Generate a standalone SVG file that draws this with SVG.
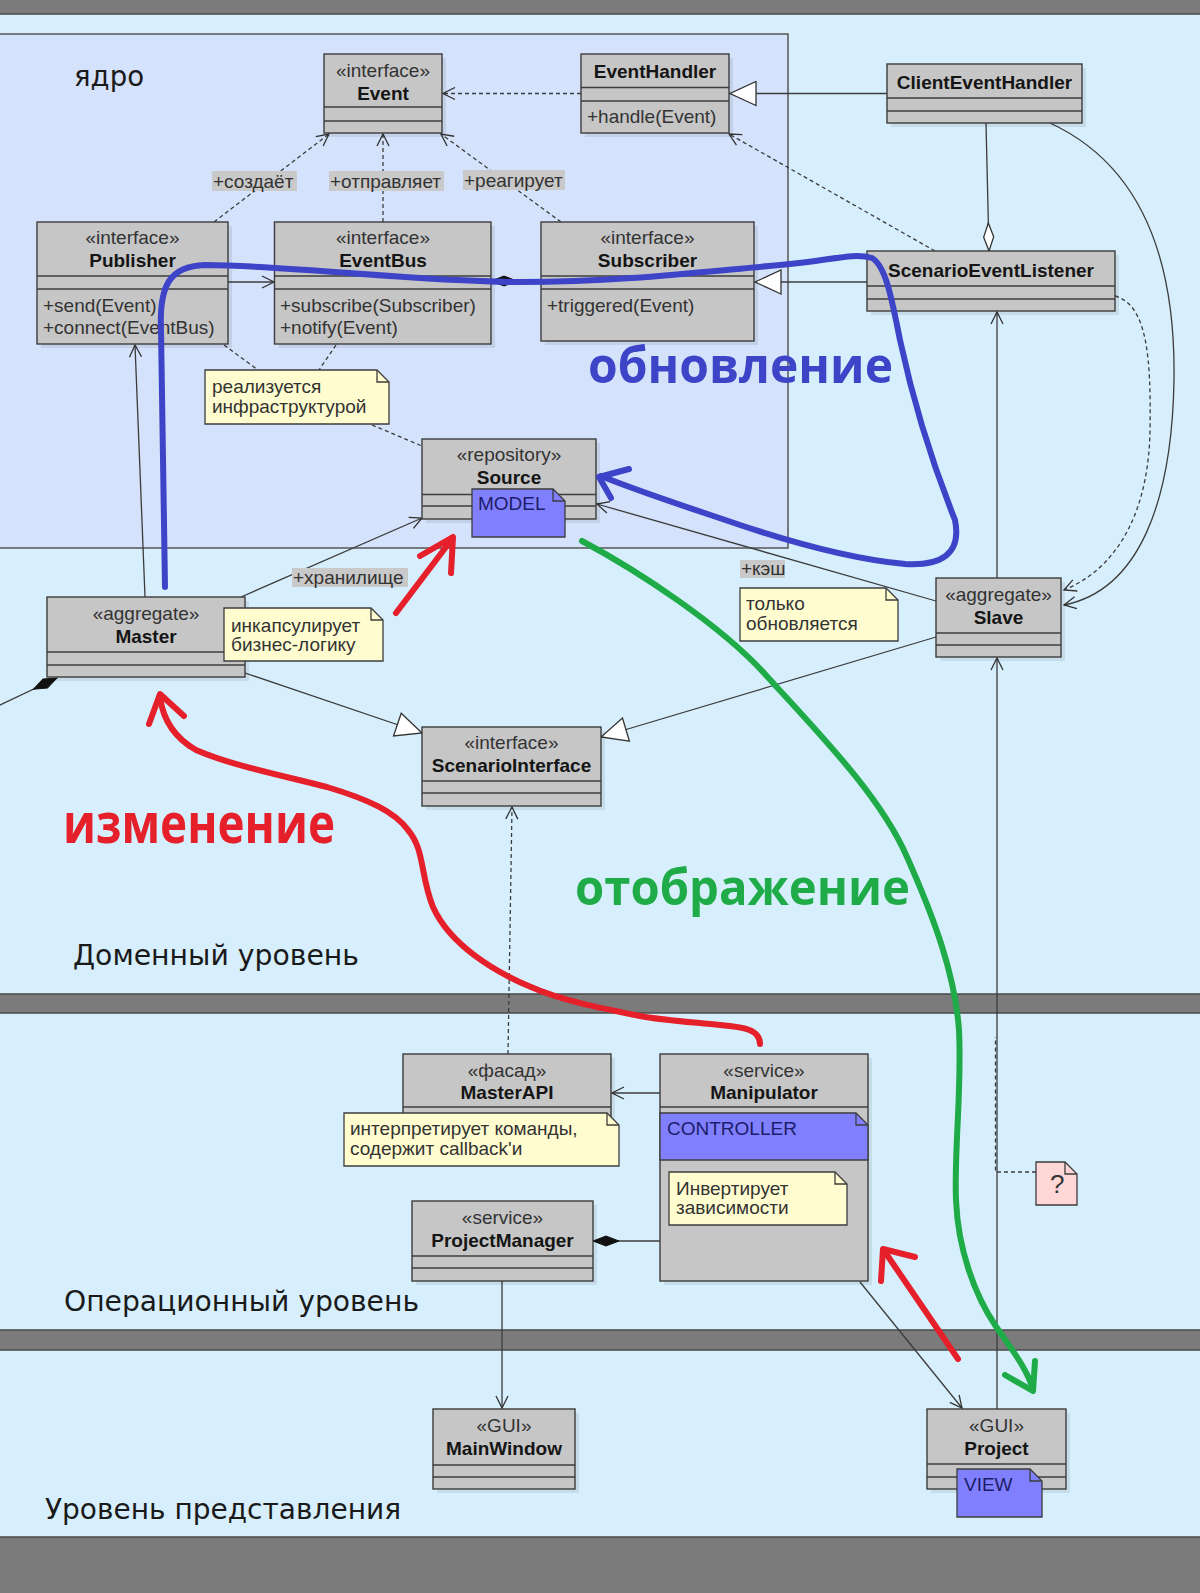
<svg xmlns="http://www.w3.org/2000/svg" width="1200" height="1593" viewBox="0 0 1200 1593">
<style>
.box{fill:#c6c6c6;stroke:#3c3c3c;stroke-width:1.4}
.sh{fill:#000;opacity:.08}
.ln{stroke:#3c3c3c;stroke-width:1.4}
.st{font-family:"Liberation Sans",Arial,sans-serif;font-size:19px;fill:#333;text-anchor:middle}
.nm{font-family:"Liberation Sans",Arial,sans-serif;font-size:19px;font-weight:bold;fill:#151515;text-anchor:middle}
.op{font-family:"Liberation Sans",Arial,sans-serif;font-size:19px;fill:#333}
.note{fill:#fffdd0;stroke:#3c3c3c;stroke-width:1.3}
.bnote{fill:#8080ff;stroke:#3c3c3c;stroke-width:1.3}
.pnote{fill:#ffd7d7;stroke:#3c3c3c;stroke-width:1.3}
.fold{fill:none;stroke:#3c3c3c;stroke-width:1.3}
.nt{font-family:"Liberation Sans",Arial,sans-serif;font-size:19px;fill:#333}
.bt{font-family:"Liberation Sans",Arial,sans-serif;font-size:19px;fill:#1c1c6a}
.lbg{fill:#c9c9c9}
.lay{font-family:"DejaVu Sans",sans-serif;font-size:28px;fill:#1a1a1a}
.c{fill:none;stroke:#3c3c3c;stroke-width:1.3}
.d{fill:none;stroke:#3c3c3c;stroke-width:1.3;stroke-dasharray:4 3}
.ann{fill:none;stroke-width:6;stroke-linecap:round;stroke-linejoin:round}
.big{font-family:"Open Sans","Noto Sans",sans-serif;font-weight:bold}
</style>
<defs>
<marker id="open" markerWidth="14" markerHeight="14" viewBox="0 0 14 14" refX="13" refY="7" orient="auto" markerUnits="userSpaceOnUse"><path d="M1,1 L13,7 L1,13" fill="none" stroke="#333" stroke-width="1.3"/></marker>
<marker id="gen" markerWidth="30" markerHeight="26" viewBox="0 0 30 26" refX="28" refY="13" orient="auto" markerUnits="userSpaceOnUse"><path d="M2,1 L28,13 L2,25 Z" fill="#fff" stroke="#333" stroke-width="1.3"/></marker>
<marker id="comp" markerWidth="30" markerHeight="14" viewBox="0 0 30 14" refX="1" refY="7" orient="auto" markerUnits="userSpaceOnUse"><path d="M1,7 L14,2 L27,7 L14,12 Z" fill="#111" stroke="#111" stroke-width="1"/></marker>
<marker id="agg" markerWidth="32" markerHeight="14" viewBox="0 0 32 14" refX="31" refY="7" orient="auto" markerUnits="userSpaceOnUse"><path d="M31,7 L17,2 L3,7 L17,12 Z" fill="#fff" stroke="#333" stroke-width="1.3"/></marker>
</defs>

<!-- background -->
<rect x="0" y="0" width="1200" height="1593" fill="#d7effc"/>
<rect x="-2" y="34" width="790" height="514" fill="#d5e2fb" stroke="#555" stroke-width="1.5"/>
<g id="bands">
<rect x="-1" y="-1" width="1202" height="15" fill="#7b7b7b" stroke="#4a4a4a" stroke-width="1.5"/>
<rect x="-1" y="994" width="1202" height="19" fill="#7b7b7b" stroke="#4a4a4a" stroke-width="1.5"/>
<rect x="-1" y="1330" width="1202" height="20" fill="#7b7b7b" stroke="#4a4a4a" stroke-width="1.5"/>
<rect x="-1" y="1537" width="1202" height="58" fill="#7b7b7b" stroke="#4a4a4a" stroke-width="1.5"/>
</g>
<g id="layer-labels">
<text class="lay" x="74" y="86" textLength="70" lengthAdjust="spacingAndGlyphs">ядро</text>
<text class="lay" x="73" y="965" textLength="286" lengthAdjust="spacingAndGlyphs">Доменный уровень</text>
<text class="lay" x="64" y="1311" textLength="355" lengthAdjust="spacingAndGlyphs">Операционный уровень</text>
<text class="lay" x="45" y="1519" textLength="356" lengthAdjust="spacingAndGlyphs">Уровень представления</text>
</g>

<!-- connectors -->
<g id="connectors">
<line class="d" x1="214" y1="222" x2="329" y2="134" marker-end="url(#open)"/>
<line class="d" x1="383" y1="222" x2="383" y2="134" marker-end="url(#open)"/>
<line class="d" x1="561" y1="222" x2="441" y2="134" marker-end="url(#open)"/>
<line class="d" x1="581" y1="93.5" x2="443" y2="93.5" marker-end="url(#open)"/>
<line class="c" x1="887" y1="93.5" x2="730" y2="93.5" marker-end="url(#gen)"/>
<line class="c" x1="867" y1="282" x2="755" y2="282" marker-end="url(#gen)"/>
<line class="c" x1="986" y1="123" x2="989" y2="251" marker-end="url(#agg)"/>
<line class="d" x1="935" y1="251" x2="729" y2="134" marker-end="url(#open)"/>
<line class="c" x1="228" y1="282" x2="274" y2="282" marker-end="url(#open)"/>
<line class="c" x1="491" y1="281" x2="541" y2="281" marker-start="url(#comp)"/>
<line class="d" x1="224" y1="345" x2="258" y2="370"/>
<line class="d" x1="336" y1="345" x2="319" y2="370"/>
<line class="d" x1="372" y1="425" x2="422" y2="446"/>
<line class="c" x1="145" y1="597" x2="135" y2="345" marker-end="url(#open)"/>
<line class="c" x1="241" y1="597" x2="422" y2="518" marker-end="url(#open)"/>
<line class="c" x1="936" y1="601" x2="597" y2="504" marker-end="url(#open)"/>
<line class="c" x1="245" y1="673" x2="422" y2="733" marker-end="url(#gen)"/>
<line class="c" x1="936" y1="637" x2="601" y2="737" marker-end="url(#gen)"/>
<line class="c" x1="997" y1="578" x2="997" y2="312" marker-end="url(#open)"/>
<line class="c" x1="997" y1="1409" x2="997" y2="658" marker-end="url(#open)"/>
<path class="d" d="M1115,296 C1148,305 1151,360 1150,430 C1149,500 1125,565 1064,590" marker-end="url(#open)"/>
<path class="c" d="M1050,123 C1130,160 1176,240 1174,380 C1172,500 1140,590 1064,605" marker-end="url(#open)"/>
<line class="d" x1="172" y1="637" x2="224" y2="637"/>
<line class="c" x1="57" y1="678" x2="-2" y2="706" marker-start="url(#comp)"/>
<line class="d" x1="508" y1="1054" x2="512" y2="807" marker-end="url(#open)"/>
<line class="d" x1="502" y1="1099" x2="497" y2="1113"/>
<line class="c" x1="660" y1="1093" x2="612" y2="1093" marker-end="url(#open)"/>
<line class="c" x1="593" y1="1241" x2="660" y2="1241" marker-start="url(#comp)"/>
<line class="c" x1="502" y1="1281" x2="502" y2="1408" marker-end="url(#open)"/>
<line class="c" x1="860" y1="1282" x2="962" y2="1408" marker-end="url(#open)"/>
<path class="d" d="M1036,1172 L995.5,1172 L995.5,1037"/>
<line class="d" x1="763" y1="1166" x2="763" y2="1172"/>
</g>

<!-- edge labels -->
<g id="edge-labels">
<rect class="lbg" x="212" y="171" width="85" height="20"/><text class="op" x="213" y="188">+создаёт</text>
<rect class="lbg" x="329" y="171" width="115" height="20"/><text class="op" x="330" y="188">+отправляет</text>
<rect class="lbg" x="463" y="170" width="102" height="20"/><text class="op" x="464" y="187">+реагирует</text>
<rect class="lbg" x="292" y="568" width="116" height="19"/><text class="op" x="293" y="584">+хранилище</text>
<rect class="lbg" x="740" y="560" width="45" height="18"/><text class="op" x="741" y="575">+кэш</text>
</g>

<!-- nodes -->
<g id="event">
<rect class="sh" x="328" y="58" width="118" height="79"/>
<rect class="box" x="324" y="54" width="118" height="79"/>
<line class="ln" x1="324" y1="107" x2="442" y2="107"/><line class="ln" x1="324" y1="121" x2="442" y2="121"/>
<text class="st" x="383" y="77">«interface»</text><text class="nm" x="383" y="100">Event</text>
</g>
<g id="eventhandler">
<rect class="sh" x="585" y="58" width="148" height="79"/>
<rect class="box" x="581" y="54" width="148" height="79"/>
<line class="ln" x1="581" y1="87.5" x2="729" y2="87.5"/><line class="ln" x1="581" y1="101" x2="729" y2="101"/>
<text class="nm" x="655" y="78">EventHandler</text>
<text class="op" x="587" y="123">+handle(Event)</text>
</g>
<g id="clienteventhandler">
<rect class="sh" x="891" y="68" width="195" height="59"/>
<rect class="box" x="887" y="64" width="195" height="59"/>
<line class="ln" x1="887" y1="98" x2="1082" y2="98"/><line class="ln" x1="887" y1="111" x2="1082" y2="111"/>
<text class="nm" x="984.5" y="89">ClientEventHandler</text>
</g>
<g id="publisher">
<rect class="sh" x="41" y="226" width="191" height="122"/>
<rect class="box" x="37" y="222" width="191" height="122"/>
<line class="ln" x1="37" y1="276" x2="228" y2="276"/><line class="ln" x1="37" y1="289" x2="228" y2="289"/>
<text class="st" x="132.5" y="244">«interface»</text><text class="nm" x="132.5" y="267">Publisher</text>
<text class="op" x="43" y="312">+send(Event)</text><text class="op" x="43" y="334">+connect(EventBus)</text>
</g>
<g id="eventbus">
<rect class="sh" x="278.5" y="226" width="216.5" height="122"/>
<rect class="box" x="274.5" y="222" width="216.5" height="122"/>
<line class="ln" x1="274.5" y1="276" x2="491" y2="276"/><line class="ln" x1="274.5" y1="289" x2="491" y2="289"/>
<text class="st" x="383" y="244">«interface»</text><text class="nm" x="383" y="267">EventBus</text>
<text class="op" x="280" y="312">+subscribe(Subscriber)</text><text class="op" x="280" y="334">+notify(Event)</text>
</g>
<g id="subscriber">
<rect class="sh" x="545" y="226" width="213" height="119"/>
<rect class="box" x="541" y="222" width="213" height="119"/>
<line class="ln" x1="541" y1="276" x2="754" y2="276"/><line class="ln" x1="541" y1="289" x2="754" y2="289"/>
<text class="st" x="647.5" y="244">«interface»</text><text class="nm" x="647.5" y="267">Subscriber</text>
<text class="op" x="547" y="312">+triggered(Event)</text>
</g>
<g id="scenarioeventlistener">
<rect class="sh" x="871" y="255" width="248" height="60"/>
<rect class="box" x="867" y="251" width="248" height="60"/>
<line class="ln" x1="867" y1="286" x2="1115" y2="286"/><line class="ln" x1="867" y1="299" x2="1115" y2="299"/>
<text class="nm" x="991" y="277">ScenarioEventListener</text>
</g>
<g id="note-infra">
<path class="note" d="M205,370 H377 L389,382 V424 H205 Z"/><path class="fold" d="M377,370 V382 H389"/>
<text class="nt" x="212" y="393">реализуется</text><text class="nt" x="212" y="413">инфраструктурой</text>
</g>
<g id="source">
<rect class="sh" x="426" y="443" width="174" height="80"/>
<rect class="box" x="422" y="439" width="174" height="80"/>
<line class="ln" x1="422" y1="494.5" x2="596" y2="494.5"/><line class="ln" x1="422" y1="506" x2="596" y2="506"/>
<text class="st" x="509" y="461">«repository»</text><text class="nm" x="509" y="484">Source</text>
</g>
<g id="note-model">
<path class="bnote" d="M472,489 H553 L565,501 V537 H472 Z"/><path class="fold" d="M553,489 V501 H565"/>
<text class="bt" x="478" y="510">MODEL</text>
</g>
<g id="master">
<rect class="sh" x="51" y="601" width="198" height="80"/>
<rect class="box" x="47" y="597" width="198" height="80"/>
<line class="ln" x1="47" y1="652" x2="245" y2="652"/><line class="ln" x1="47" y1="665" x2="245" y2="665"/>
<text class="st" x="146" y="620">«aggregate»</text><text class="nm" x="146" y="643">Master</text>
</g>
<g id="note-master">
<path class="note" d="M224,608 H371 L383,620 V661 H224 Z"/><path class="fold" d="M371,608 V620 H383"/>
<text class="nt" x="231" y="632">инкапсулирует</text><text class="nt" x="231" y="651">бизнес-логику</text>
</g>
<g id="scenariointerface">
<rect class="sh" x="426" y="731" width="179" height="79"/>
<rect class="box" x="422" y="727" width="179" height="79"/>
<line class="ln" x1="422" y1="781" x2="601" y2="781"/><line class="ln" x1="422" y1="793" x2="601" y2="793"/>
<text class="st" x="511.5" y="749">«interface»</text><text class="nm" x="511.5" y="772">ScenarioInterface</text>
</g>
<g id="slave">
<rect class="sh" x="940" y="582" width="125" height="79"/>
<rect class="box" x="936" y="578" width="125" height="79"/>
<line class="ln" x1="936" y1="633" x2="1061" y2="633"/><line class="ln" x1="936" y1="645" x2="1061" y2="645"/>
<text class="st" x="998.5" y="601">«aggregate»</text><text class="nm" x="998.5" y="624">Slave</text>
</g>
<g id="note-slave">
<path class="note" d="M740,588 H886 L898,600 V641 H740 Z"/><path class="fold" d="M886,588 V600 H898"/>
<text class="nt" x="746" y="610">только</text><text class="nt" x="746" y="630">обновляется</text>
</g>
<g id="masterapi">
<rect class="sh" x="407" y="1058" width="208" height="80"/>
<rect class="box" x="403" y="1054" width="208" height="80"/>
<line class="ln" x1="403" y1="1107" x2="611" y2="1107"/><line class="ln" x1="403" y1="1120" x2="611" y2="1120"/>
<text class="st" x="507" y="1077">«фасад»</text><text class="nm" x="507" y="1099">MasterAPI</text>
</g>
<g id="note-masterapi">
<path class="note" d="M344,1113 H607 L619,1125 V1166 H344 Z"/><path class="fold" d="M607,1113 V1125 H619"/>
<text class="nt" x="350" y="1135">интерпретирует команды,</text><text class="nt" x="350" y="1155">содержит callback'и</text>
</g>
<g id="manipulator">
<rect class="sh" x="664" y="1058" width="208" height="227"/>
<rect class="box" x="660" y="1054" width="208" height="227"/>
<line class="ln" x1="660" y1="1107" x2="868" y2="1107"/>
<text class="st" x="764" y="1077">«service»</text><text class="nm" x="764" y="1099">Manipulator</text>
</g>
<g id="note-controller">
<path class="bnote" d="M660,1113 H856 L868,1125 V1160 H660 Z"/><path class="fold" d="M856,1113 V1125 H868"/>
<text class="bt" x="667" y="1135">CONTROLLER</text>
</g>
<g id="note-manipulator">
<path class="note" d="M669,1172 H835 L847,1184 V1225 H669 Z"/><path class="fold" d="M835,1172 V1184 H847"/>
<text class="nt" x="676" y="1195">Инвертирует</text><text class="nt" x="676" y="1214">зависимости</text>
</g>
<g id="projectmanager">
<rect class="sh" x="416" y="1205" width="181" height="80"/>
<rect class="box" x="412" y="1201" width="181" height="80"/>
<line class="ln" x1="412" y1="1256" x2="593" y2="1256"/><line class="ln" x1="412" y1="1268" x2="593" y2="1268"/>
<text class="st" x="502.5" y="1224">«service»</text><text class="nm" x="502.5" y="1247">ProjectManager</text>
</g>
<g id="note-question">
<path class="pnote" d="M1036,1162 H1065 L1077,1174 V1205 H1036 Z"/><path class="fold" d="M1065,1162 V1174 H1077"/>
<text class="nt" x="1050" y="1193" style="font-size:26px">?</text>
</g>
<g id="mainwindow">
<rect class="sh" x="437" y="1413" width="142" height="80"/>
<rect class="box" x="433" y="1409" width="142" height="80"/>
<line class="ln" x1="433" y1="1465" x2="575" y2="1465"/><line class="ln" x1="433" y1="1477" x2="575" y2="1477"/>
<text class="st" x="504" y="1432">«GUI»</text><text class="nm" x="504" y="1455">MainWindow</text>
</g>
<g id="project">
<rect class="sh" x="931" y="1413" width="139" height="80"/>
<rect class="box" x="927" y="1409" width="139" height="80"/>
<line class="ln" x1="927" y1="1464" x2="1066" y2="1464"/><line class="ln" x1="927" y1="1477" x2="1066" y2="1477"/>
<text class="st" x="996.5" y="1432">«GUI»</text><text class="nm" x="996.5" y="1455">Project</text>
</g>
<g id="note-view">
<path class="bnote" d="M957,1469 H1030 L1042,1481 V1517 H957 Z"/><path class="fold" d="M1030,1469 V1481 H1042"/>
<text class="bt" x="964" y="1491">VIEW</text>
</g>

<!-- annotations -->
<g id="annotation-update">
<path class="ann" stroke="#3d44c7" d="M165,587 L161,330 C159,285 170,266 205,265 C300,266 420,282 520,282 C620,282 700,272 780,265 C830,261 852,252 872,258 C886,266 892,300 900,340 C915,410 935,470 955,520 C962,555 940,566 905,564 C860,560 800,545 740,525 C690,508 640,492 601,476"/>
<path class="ann" stroke="#3d44c7" d="M629,469 L599,477 L611,498"/>
<text class="big" x="588" y="383" font-size="50" fill="#3d44c7" textLength="305" lengthAdjust="spacingAndGlyphs">обновление</text>
</g>
<g id="annotation-change">
<path class="ann" stroke="#e5202b" d="M760,1044 C760,1030 745,1027 720,1025 C690,1022 660,1020 640,1016 C600,1008 560,1000 531,987 C495,972 450,945 433,907 C420,875 425,850 408,830 C395,812 370,800 327,787 C280,775 230,765 196,750 C175,738 163,720 160,697"/>
<path class="ann" stroke="#e5202b" d="M149,724 L160,694 L184,716"/>
<path class="ann" stroke="#e5202b" d="M396,613 L452,539"/>
<path class="ann" stroke="#e5202b" d="M420,556 L453,537 L451,573"/>
<path class="ann" stroke="#e5202b" d="M958,1359 L885,1252"/>
<path class="ann" stroke="#e5202b" d="M915,1257 L883,1249 L881,1281"/>
<text class="big" x="63" y="843" font-size="55" fill="#e5202b" textLength="272" lengthAdjust="spacingAndGlyphs">изменение</text>
</g>
<g id="annotation-display">
<path class="ann" stroke="#1fab48" d="M582,541 C640,572 720,625 764,673 C820,735 880,795 907,857 C935,920 955,975 959,1030 C962,1090 954,1150 956,1200 C958,1250 975,1295 995,1325 C1012,1350 1028,1370 1033,1390"/>
<path class="ann" stroke="#1fab48" d="M1005,1375 L1033,1391 L1035,1361"/>
<text class="big" x="575" y="905" font-size="51" fill="#1fab48" textLength="335" lengthAdjust="spacingAndGlyphs">отображение</text>
</g>
</svg>
